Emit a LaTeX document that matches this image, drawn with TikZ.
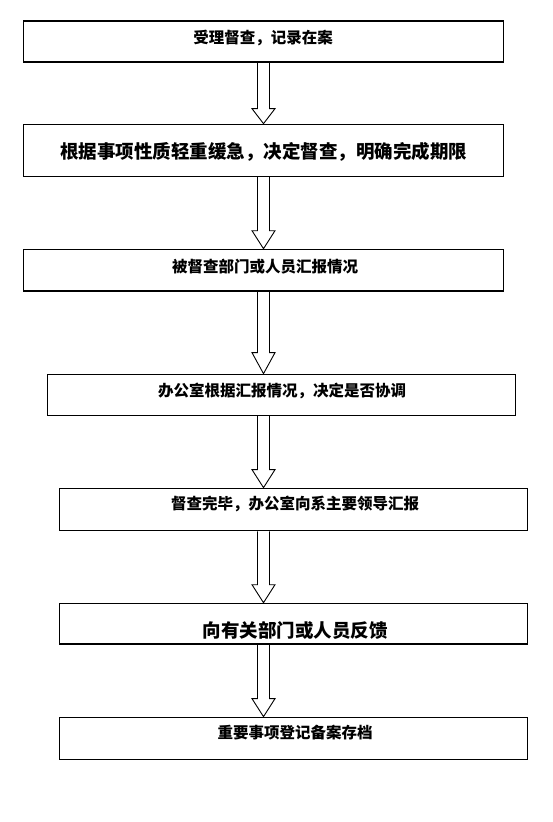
\documentclass[tikz,border=0pt]{standalone}
\usepackage{fontspec}
\newfontfamily\cjk{Noto Sans CJK SC}
\usepackage{tikz}
\usetikzlibrary{calc}
\newcommand{\flowarrow}[3]{%
  \draw[Hollow] let \p0=(axis), \p1=(#1.south), \p2=(#2.north) in
    (\x0-6pt,\y1) -- (\x0-6pt,\y2+#3) -- (\x0-11.5pt,\y2+#3) -- (\x0,\y2)
    -- (\x0+11.5pt,\y2+#3) -- (\x0+6pt,\y2+#3) -- (\x0+6pt,\y1);}

\begin{document}
\begin{tikzpicture}
  [
    x=1pt, y=-1pt,
    Box/.style={rectangle, draw=black, line width=1.3pt, inner sep=0pt, minimum height=41pt},
    Wide/.style={Box, minimum width=479.6pt},
    Narrow/.style={Box, minimum width=468pt},
    Text/.style={font=\cjk\bfseries\fontsize{15.5}{18}\selectfont, inner sep=0pt},
    Big/.style={font=\cjk\bfseries\fontsize{18.5}{22}\selectfont, inner sep=0pt},
    Hollow/.style={draw=black, line width=0.9pt, line join=miter}
  ]
  \useasboundingbox (0,0) rectangle (552,822);
  \coordinate (axis) at (263.5,0);
  % Boxes
  \node[Wide] (b1) at (263.5,41.4) {};
  \node[Wide, minimum height=52pt] (b2) at (263.5,150.3) {};
  \node[Wide, minimum height=41.7pt] (b3) at (263.5,270.2) {};
  \node[Narrow] (b4) at (281.3,394.8) {};
  \node[Narrow, minimum height=42.4pt] (b5) at (293.5,509.5) {};
  \node[Narrow, minimum height=40.7pt] (b6) at (293.5,623.7) {};
  \node[Narrow, minimum height=42pt] (b7) at (293.5,738.3) {};
  % Texts
  \node[Text] (t1) at (263,37.7) {受理督查，记录在案};
  \node[Big] (t2) at (263.5,152) {根据事项性质轻重缓急，决定督查，明确完成期限};
  \node[Text] (t3) at (265,266.7) {被督查部门或人员汇报情况};
  \node[Text] (t4) at (282,391) {办公室根据汇报情况，决定是否协调};
  \node[Text] (t5) at (295,504) {督查完毕，办公室向系主要领导汇报};
  \node[Big] (t6) at (295,630) {向有关部门或人员反馈};
  \node[Text] (t7) at (295,733) {重要事项登记备案存档};
  % Arrows
  \flowarrow{b1}{b2}{15pt}
  \flowarrow{b2}{b3}{18pt}
  \flowarrow{b3}{b4}{21pt}
  \flowarrow{b4}{b5}{18pt}
  \flowarrow{b5}{b6}{18pt}
  \flowarrow{b6}{b7}{18pt}
\end{tikzpicture}
\end{document}
